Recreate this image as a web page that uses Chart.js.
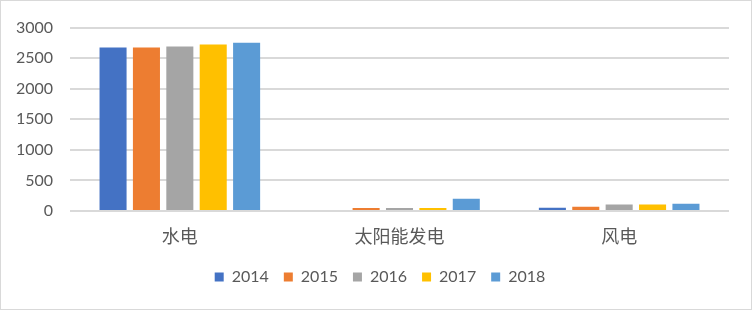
<!DOCTYPE html>
<html><head><meta charset="utf-8">
<script src="https://cdn.jsdelivr.net/npm/chart.js@4/dist/chart.umd.min.js"></script>
<style>
html,body{margin:0;padding:0;background:#fff;}
#wrap{position:absolute;left:0;top:0;width:750px;height:308px;border:1px solid #d9d9d9;}
</style></head><body>
<div id="wrap"><canvas id="c" width="750" height="308"></canvas></div>
<script>
const categories = ['水电', '太阳能发电', '风电'];
const years = ['2014', '2015', '2016', '2017', '2018'];
const v2014 = [2674, 0, 55];
const v2015 = [2674, 48, 70];
const v2016 = [2690, 50, 105];
const v2017 = [2722, 50, 105];
const v2018 = [2754, 200, 120];
const yTicks = [0, 500, 1000, 1500, 2000, 2500, 3000];
const colors = ['#4472c4', '#ed7d31', '#a5a5a5', '#ffc000', '#5b9bd5'];
const series = [v2014, v2015, v2016, v2017, v2018];

const font = 'Lato, "Noto Sans CJK SC", sans-serif';
const legendShift = {
  id: 'legendShift',
  afterLayout(chart) { if (chart.legend) { chart.legend.left += 15; chart.legend.right += 15; } }
};
new Chart(document.getElementById('c'), {
  type: 'bar',
  data: {
    labels: categories,
    datasets: years.map((y, i) => ({
      label: y, data: series[i], backgroundColor: colors[i],
      categoryPercentage: 0.76, barPercentage: 0.81
    }))
  },
  plugins: [legendShift],
  options: {
    responsive: false, animation: false,
    layout: {padding: {left: 0, right: 22, top: 7, bottom: 14}},
    plugins: {
      legend: {position: 'bottom', labels: {boxWidth: 9, boxHeight: 9, color: '#595959', font: {family: font, size: 16}, padding: 15}},
      tooltip: {enabled: false}
    },
    scales: {
      x: {grid: {display: false}, border: {display: false},
          afterFit: ax => { ax.height = 43; },
          ticks: {color: '#595959', font: {family: font, size: 18}, padding: 7}},
      y: {min: 0, max: 3000, afterBuildTicks: ax => { ax.ticks = yTicks.map(v => ({value: v})); },
          afterFit: ax => { ax.width = 69; },
          grid: {color: '#d9d9d9', lineWidth: 2, drawTicks: false}, border: {display: false},
          ticks: {color: '#595959', font: {family: font, size: 16}, padding: 17, callback: v => String(v)}}
    }
  }
});
</script></body></html>
